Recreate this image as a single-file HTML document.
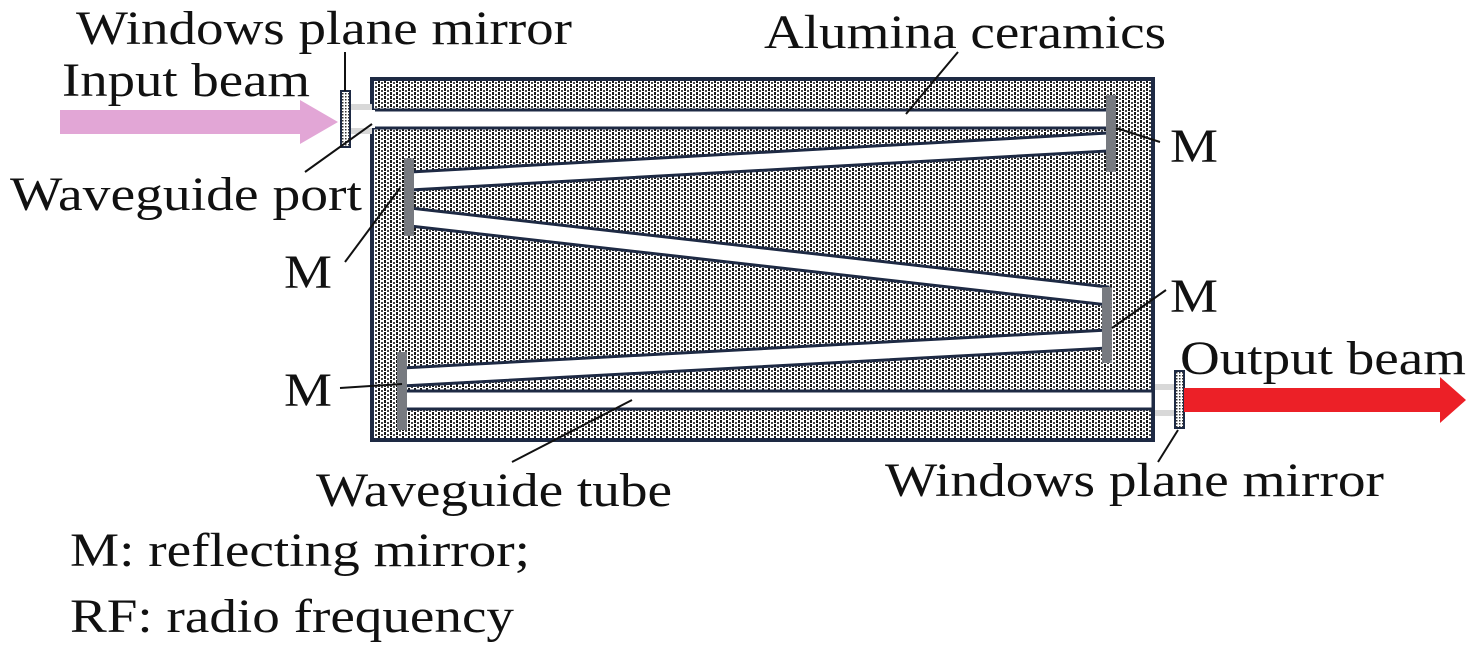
<!DOCTYPE html>
<html><head><meta charset="utf-8"><style>
html,body{margin:0;padding:0;background:#fff;}
svg{display:block;}
svg text{font-family:"Liberation Serif","Times New Roman",serif;fill:#111;}
</style></head><body>
<svg width="1476" height="646" viewBox="0 0 1476 646" xmlns="http://www.w3.org/2000/svg">
<defs>
<pattern id="dots" width="6" height="4" patternUnits="userSpaceOnUse">
<rect width="6" height="4" fill="#fff"/>
<rect x="0" y="0" width="2" height="3" fill="#1a1a1a"/>
<rect x="3" y="2" width="2" height="2" fill="#444"/>
</pattern>
<pattern id="cross" width="3" height="3" patternUnits="userSpaceOnUse">
<rect width="3" height="3" fill="#fff"/>
<rect width="1.5" height="1.5" fill="#333"/>
</pattern>
</defs>
<rect x="372" y="79" width="781" height="361" fill="url(#dots)" stroke="#1e2a44" stroke-width="4"/>
<g fill="#fff" stroke="#1e2a44" stroke-width="3">
<polygon points="372,110 1108,110 1108,128 372,128"/>
<polygon points="410,172 1108,133 1108,151 410,190"/>
<polygon points="410,208 1108,287 1108,305 410,226"/>
<polygon points="402,368 1108,330 1108,348 402,386"/>
<polygon points="402,391 1153,391 1153,409 402,409"/>
</g>
<rect x="365" y="110" width="10" height="18" fill="#fff"/>
<g fill="#777a80">
<rect x="1106" y="95" width="10" height="77"/>
<rect x="404" y="158" width="10" height="78"/>
<rect x="1102" y="287" width="10" height="76"/>
<rect x="397" y="352" width="10" height="78"/>
</g>
<g fill="#d8d8d8">
<rect x="350" y="104" width="22" height="6"/>
<rect x="350" y="128" width="22" height="6"/>
<rect x="1155" y="384" width="20" height="6"/>
<rect x="1155" y="410" width="20" height="6"/>
</g>
<rect x="341" y="91" width="9" height="56" fill="url(#cross)" stroke="#1e2a44" stroke-width="2"/>
<rect x="1175" y="371" width="9" height="57" fill="url(#cross)" stroke="#1e2a44" stroke-width="2"/>
<polygon points="60,110 300,110 300,100 338,122 300,144 300,134 60,134" fill="#e2a6d6"/>
<polygon points="1184,388 1440,388 1440,377 1466,400 1440,423 1440,412 1184,412" fill="#ec2027"/>
<g stroke="#111" stroke-width="2" fill="none">
<line x1="345" y1="91" x2="345" y2="52"/>
<line x1="958" y1="52" x2="906" y2="114"/>
<line x1="372" y1="124" x2="305" y2="172"/>
<line x1="1116" y1="128" x2="1160" y2="142"/>
<line x1="400" y1="188" x2="345" y2="262"/>
<line x1="1166" y1="290" x2="1112" y2="328"/>
<line x1="340" y1="388" x2="402" y2="384"/>
<line x1="632" y1="400" x2="512" y2="462"/>
<line x1="1178" y1="430" x2="1158" y2="462"/>
</g>
<g font-size="48" font-family="Liberation Serif, serif">
<text x="76" y="44" textLength="496" lengthAdjust="spacingAndGlyphs">Windows plane mirror</text>
<text x="62" y="96" textLength="248" lengthAdjust="spacingAndGlyphs">Input beam</text>
<text x="764" y="48" textLength="402" lengthAdjust="spacingAndGlyphs">Alumina ceramics</text>
<text x="10" y="210" textLength="352" lengthAdjust="spacingAndGlyphs">Waveguide port</text>
<text x="1170" y="162" textLength="48" lengthAdjust="spacingAndGlyphs">M</text>
<text x="284" y="288" textLength="48" lengthAdjust="spacingAndGlyphs">M</text>
<text x="1170" y="312" textLength="48" lengthAdjust="spacingAndGlyphs">M</text>
<text x="1180" y="374" textLength="286" lengthAdjust="spacingAndGlyphs">Output beam</text>
<text x="284" y="406" textLength="48" lengthAdjust="spacingAndGlyphs">M</text>
<text x="316" y="506" textLength="356" lengthAdjust="spacingAndGlyphs">Waveguide tube</text>
<text x="885" y="496" textLength="499" lengthAdjust="spacingAndGlyphs">Windows plane mirror</text>
<text x="70" y="566" textLength="460" lengthAdjust="spacingAndGlyphs">M: reflecting mirror;</text>
<text x="70" y="632" textLength="444" lengthAdjust="spacingAndGlyphs">RF: radio frequency</text>
</g>
</svg>
</body></html>
